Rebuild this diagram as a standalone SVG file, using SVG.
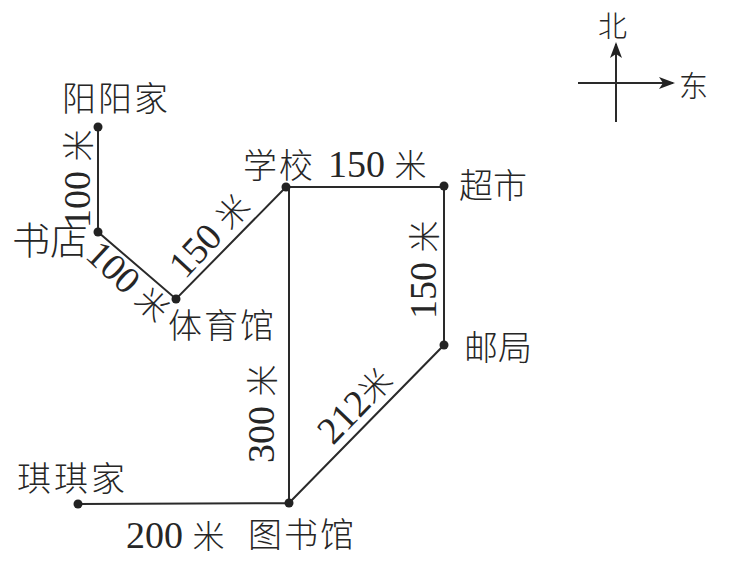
<svg xmlns="http://www.w3.org/2000/svg" width="731" height="561" viewBox="0 0 731 561">
<style>
text{font-family:"Noto Sans CJK SC","Liberation Serif",serif;font-size:34px;fill:#262626;font-weight:300}
.n{font-family:"Liberation Serif","Noto Sans CJK SC",serif;font-size:38px;font-weight:400}
.m{font-family:"Noto Sans CJK SC",sans-serif;font-size:32px;font-weight:300}
.c{font-size:29px}
.e{fill:none;stroke:#2a2a2a;stroke-width:2}
.d{fill:#222}
</style>
<defs><marker id="a" markerWidth="16" markerHeight="12" refX="14" refY="6" orient="auto" markerUnits="userSpaceOnUse"><path d="M0 0L16 6L0 12L4 6Z" fill="#222"/></marker></defs>
<rect width="731" height="561" fill="#fff"/>
<g id="connectors">
<path class="e" d="M98 127V232L176 299L286 187H444V345L289 503V187M289 503L78 504"/>
<path class="e" d="M578 83H673" marker-end="url(#a)"/>
<path class="e" d="M616 122V44" marker-end="url(#a)"/>
</g>
<g id="yangyang"><circle class="d" cx="98" cy="127" r="4.5"/><text x="62" y="111" letter-spacing="2">阳阳家</text></g>
<g id="shudian"><circle class="d" cx="98" cy="232" r="4.5"/><text x="12" y="254" style="font-size:38px">书店</text></g>
<g id="tiyuguan"><circle class="d" cx="176" cy="299" r="4.5"/><text x="168" y="338" letter-spacing="2">体育馆</text></g>
<g id="xuexiao"><circle class="d" cx="286" cy="187" r="4.5"/><text x="243" y="178" letter-spacing="2">学校</text></g>
<g id="chaoshi"><circle class="d" cx="444" cy="186" r="4.5"/><text x="459" y="198">超市</text></g>
<g id="youju"><circle class="d" cx="444" cy="345" r="4.5"/><text x="464" y="360">邮局</text></g>
<g id="tushuguan"><circle class="d" cx="289" cy="503" r="4.5"/><text x="248" y="547" letter-spacing="2">图书馆</text></g>
<g id="qiqi"><circle class="d" cx="78" cy="504" r="4.5"/><text x="17" y="491" letter-spacing="3">琪琪家</text></g>
<g id="north"><text class="c" x="598" y="37">北</text></g>
<g id="east"><text class="c" x="679" y="97">东</text></g>
<g id="labels">
<text class="n" transform="translate(90 228) rotate(-90)">100 <tspan class="m">米</tspan></text>
<text class="n" transform="translate(84 257) rotate(43)">100 <tspan class="m">米</tspan></text>
<text class="n" transform="translate(185 280) rotate(-47)">150 <tspan class="m">米</tspan></text>
<text class="n" x="328" y="177">150 <tspan class="m">米</tspan></text>
<text class="n" transform="translate(436 319) rotate(-90)">150 <tspan class="m">米</tspan></text>
<text class="n" transform="translate(274 463) rotate(-90)">300 <tspan class="m">米</tspan></text>
<text class="n" transform="translate(333 446) rotate(-46)">212<tspan class="m">米</tspan></text>
<text class="n" x="126" y="548">200 <tspan class="m">米</tspan></text>
</g>
</svg>
